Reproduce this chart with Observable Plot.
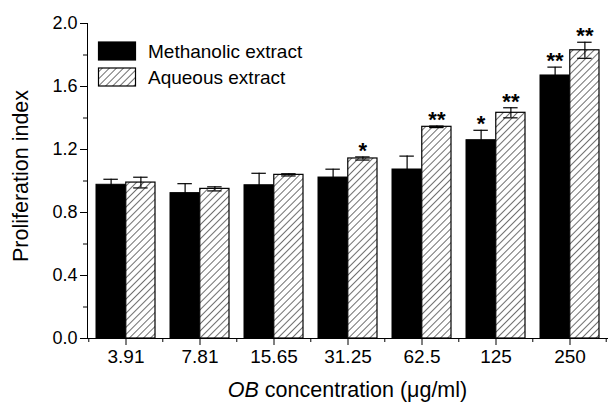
<!DOCTYPE html>
<html><head><meta charset="utf-8">
<script src="https://cdn.jsdelivr.net/npm/d3@7"></script>
<script src="https://cdn.jsdelivr.net/npm/@observablehq/plot@0.6"></script>
<style>
body{margin:0;background:#fff;}
#chart{width:608px;height:403px;}
</style>
</head><body><div id="chart"></div>
<script>
const concentrations = ["3.91","7.81","15.65","31.25","62.5","125","250"];
const methanolic    = [0.976,0.923,0.973,1.022,1.073,1.259,1.670];
const methanolicErr = [0.035,0.060,0.076,0.053,0.085,0.063,0.053];
const aqueous       = [0.990,0.950,1.039,1.143,1.344,1.433,1.830];
const aqueousErr    = [0.034,0.013,0.007,0.010,0.005,0.032,0.051];
const methanolicSig = ["","","","","","*","**"];
const aqueousSig    = ["","","","*","**","**","**"];
const seriesNames   = ["Methanolic extract","Aqueous extract"];
const yTicks = [0,0.4,0.8,1.2,1.6,2.0];
const yMinor = [0.2,0.6,1.0,1.4,1.8];

const W = 608, H = 403, mL = 87, mR = 0, mT = 23, mB = 65;
const padIn = 0.2, padOut = 0.1;
const step = (W - mL - mR) / (concentrations.length - padIn + 2 * padOut);
const bw = step * (1 - padIn);
const half = bw / 2;
const capW = 15;
const font = "Liberation Sans, Arial, Helvetica, sans-serif";

const meth = concentrations.map((c, i) => ({conc: c, value: methanolic[i], err: methanolicErr[i], sig: methanolicSig[i]}));
const aq = concentrations.map((c, i) => ({conc: c, value: aqueous[i], err: aqueousErr[i], sig: aqueousSig[i]}));

function errorMarks(data, offset, capLeft) {
  return [
    Plot.ruleX(data, {x: "conc", y1: d => d.value - d.err, y2: d => d.value + d.err, dx: offset, stroke: "black", strokeWidth: 1.2}),
    Plot.tickY(data, {x: "conc", y: d => d.value + d.err, insetLeft: capLeft, insetRight: bw - capLeft - capW, stroke: "black", strokeWidth: 1.2}),
    Plot.tickY(data, {x: "conc", y: d => d.value - d.err, insetLeft: capLeft, insetRight: bw - capLeft - capW, stroke: "black", strokeWidth: 1.2}),
    Plot.text(data.filter(d => d.sig), {x: "conc", y: d => d.value + d.err, text: "sig", dx: offset, dy: 1, lineAnchor: "bottom", fontSize: 22, fontWeight: "bold", fill: "black"})
  ];
}

const plot = Plot.plot({
  width: W, height: H,
  marginLeft: mL, marginRight: mR, marginTop: mT, marginBottom: mB,
  style: {fontFamily: font, fontSize: "18px", color: "black", background: "white"},
  x: {domain: concentrations, paddingInner: padIn, paddingOuter: padOut, axis: null},
  y: {domain: [0, 2], axis: null},
  marks: [
    Plot.barY(meth, {x: "conc", y: "value", fill: "black", stroke: "black", insetRight: half}),
    Plot.barY(aq, {x: "conc", y: "value", fill: "url(#hatch)", stroke: "black", strokeWidth: 1.2, insetLeft: half}),
    ...errorMarks(meth, -half / 2, half / 2 - capW / 2),
    ...errorMarks(aq, half / 2, half + half / 2 - capW / 2),
    Plot.axisY({ticks: yTicks, tickSize: 7, tickPadding: 3, tickFormat: d3.format(".1f"), fontSize: 18, label: null}),
    Plot.axisY({ticks: yMinor, tickSize: 4, tickFormat: () => "", label: null}),
    Plot.axisX({tickSize: 7, tickPadding: 4, fontSize: 19, label: null}),
    Plot.ruleX(concentrations, {x: d => d, y1: 0, y2: 0, dx: -step / 2, insetBottom: -4, stroke: "black"}),
    Plot.ruleX(concentrations.slice(-1), {x: d => d, y1: 0, y2: 0, dx: step / 2 - 1, insetBottom: -4, stroke: "black"}),
    Plot.frame({anchor: "left", stroke: "black"}),
    Plot.frame({anchor: "bottom", stroke: "black"}),
    Plot.text(["Proliferation index"], {frameAnchor: "left", textAnchor: "middle", dx: -66, dy: -5, rotate: -90, fontSize: 21.5, fill: "black"})
  ]
});

const svg = d3.select(plot);
const defs = svg.insert("defs", ":first-child");
const pat = defs.append("pattern").attr("id", "hatch").attr("patternUnits", "userSpaceOnUse")
  .attr("width", 5).attr("height", 5).attr("patternTransform", "rotate(45)");
pat.append("rect").attr("width", 5).attr("height", 5).attr("fill", "white");
pat.append("line").attr("x1", 0).attr("y1", 0).attr("x2", 0).attr("y2", 5).attr("stroke", "#222").attr("stroke-width", 1.3);

// x-axis title with italic OB
const xt = svg.append("text").attr("x", mL + (W - mL - mR) / 2).attr("y", 397)
  .attr("text-anchor", "middle").attr("font-family", font).attr("font-size", 21.5).attr("fill", "black");
xt.append("tspan").attr("font-style", "italic").text("OB");
xt.append("tspan").text(" concentration (\u03bcg/ml)");

// legend
const lg = svg.append("g").attr("font-family", font).attr("font-size", 19).attr("text-anchor", "start");
seriesNames.forEach((name, i) => {
  const y0 = 42 + i * 26;
  lg.append("rect").attr("x", 98.5).attr("y", y0).attr("width", 37).attr("height", 18)
    .attr("fill", i === 0 ? "black" : "url(#hatch)").attr("stroke", "black").attr("stroke-width", 1.2);
  lg.append("text").attr("x", 148).attr("y", y0 + 9).attr("dy", "0.35em").attr("fill", "black").text(name);
});

document.getElementById("chart").appendChild(plot);
</script>
</body></html>
